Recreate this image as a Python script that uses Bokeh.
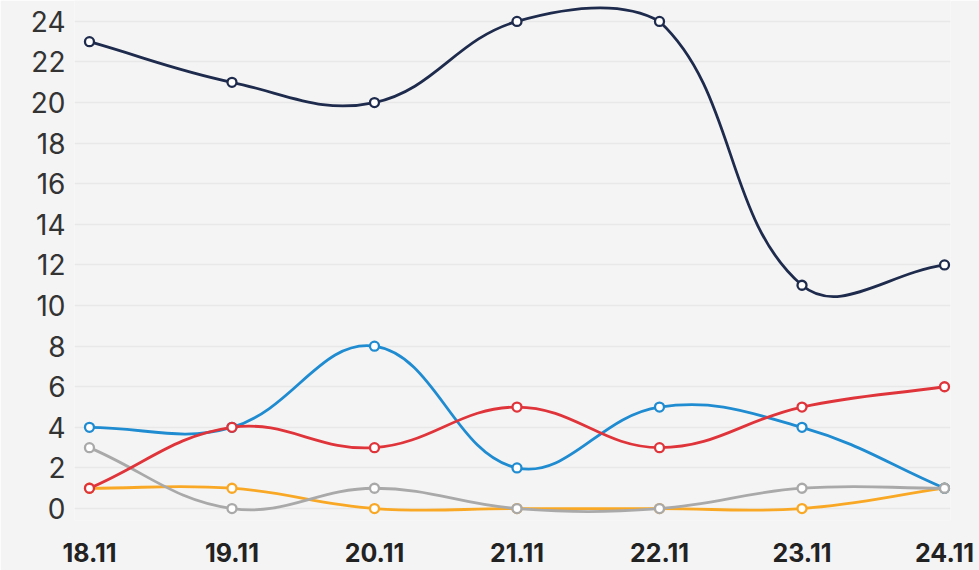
from bokeh.plotting import figure
from bokeh.models import FixedTicker, Range1d
from bokeh.embed import file_html
from bokeh.resources import INLINE
import math

# ---- data ----
dates = ["18.11", "19.11", "20.11", "21.11", "22.11", "23.11", "24.11"]
navy = [23, 21, 20, 24, 24, 11, 12]
blue = [4, 4, 8, 2, 5, 4, 1]
red = [1, 4, 3, 5, 3, 5, 6]
gray = [3, 0, 1, 0, 0, 1, 1]
orange = [1, 1, 0, 0, 0, 0, 1]
y_ticks = list(range(0, 25, 2))

# ---- layout ----
W, H = 979, 570
BL, BR, BT, BB = 74, 29, 0, 50
X0, X1 = -0.105, 6.042
Y0, Y1 = -0.59, 25.03
TENSION = 0.4

frame_w = W - BL - BR
frame_h = H - BT - BB
sx = frame_w / (X1 - X0)
sy = frame_h / (Y1 - Y0)

BG = "#f4f4f4"

p = figure(width=W, height=H, output_backend="svg", toolbar_location=None,
           x_range=Range1d(X0, X1), y_range=Range1d(Y0, Y1),
           min_border_left=BL, min_border_right=BR, min_border_top=BT,
           min_border_bottom=BB, background_fill_color=BG,
           border_fill_color=BG, outline_line_color=None)


def spline_segments(xs, ys):
    n = len(xs)
    pts = [(x * sx, y * sy) for x, y in zip(xs, ys)]
    cps = []
    for i in range(n):
        cur = pts[i]
        prev = pts[i - 1] if i > 0 else cur
        nxt = pts[i + 1] if i < n - 1 else cur
        d01 = math.dist(cur, prev)
        d12 = math.dist(nxt, cur)
        tot = d01 + d12
        s01 = d01 / tot if tot else 0
        s12 = d12 / tot if tot else 0
        fa, fb = TENSION * s01, TENSION * s12
        dx, dy = nxt[0] - prev[0], nxt[1] - prev[1]
        cp_prev = (cur[0] - fa * dx, cur[1] - fa * dy)
        cp_next = (cur[0] + fb * dx, cur[1] + fb * dy)

        def clamp(c):
            cx = min(max(c[0] / sx, X0), X1)
            cy = min(max(c[1] / sy, Y0), Y1)
            return (cx, cy)
        cps.append((clamp(cp_prev), clamp(cp_next)))
    seg = dict(x0=[], y0=[], x1=[], y1=[], cx0=[], cy0=[], cx1=[], cy1=[])
    for i in range(n - 1):
        seg["x0"].append(xs[i]); seg["y0"].append(ys[i])
        seg["x1"].append(xs[i + 1]); seg["y1"].append(ys[i + 1])
        seg["cx0"].append(cps[i][1][0]); seg["cy0"].append(cps[i][1][1])
        seg["cx1"].append(cps[i + 1][0][0]); seg["cy1"].append(cps[i + 1][0][1])
    return seg


xs = list(range(len(dates)))
series = [
    (orange, "#f9a825"),
    (blue, "#1f8bd0"),
    (gray, "#a9a9a9"),
    (red, "#e0343b"),
    (navy, "#1e2b4d"),
]
for vals, col in series:
    s = spline_segments(xs, vals)
    p.bezier(x0=s["x0"], y0=s["y0"], x1=s["x1"], y1=s["y1"],
             cx0=s["cx0"], cy0=s["cy0"], cx1=s["cx1"], cy1=s["cy1"],
             line_color=col, line_width=2.8)
    p.scatter(xs, vals, marker="circle", size=9, fill_color="white",
              line_color=col, line_width=2.3)

# axes
p.xgrid.grid_line_color = None
p.ygrid.grid_line_color = "#e8e8e8"
p.ygrid.grid_line_width = 1.5
p.yaxis.ticker = FixedTicker(ticks=y_ticks)
p.xaxis.ticker = FixedTicker(ticks=xs)
p.xaxis.major_label_overrides = {i: d for i, d in enumerate(dates)}
for ax in (p.xaxis, p.yaxis):
    ax.axis_line_color = None
    ax.major_tick_line_color = None
    ax.minor_tick_line_color = None
p.yaxis.major_label_text_font = "Inter"
p.yaxis.major_label_text_font_size = "28px"
p.yaxis.major_label_text_color = "#333333"
p.yaxis.major_label_standoff = 3
p.xaxis.major_label_text_font = "Inter"
p.xaxis.major_label_text_font_style = "bold"
p.xaxis.major_label_text_font_size = "25px"
p.xaxis.major_label_text_color = "#222222"
p.xaxis.major_label_standoff = 16

open("out.html", "w").write(file_html(p, INLINE))
